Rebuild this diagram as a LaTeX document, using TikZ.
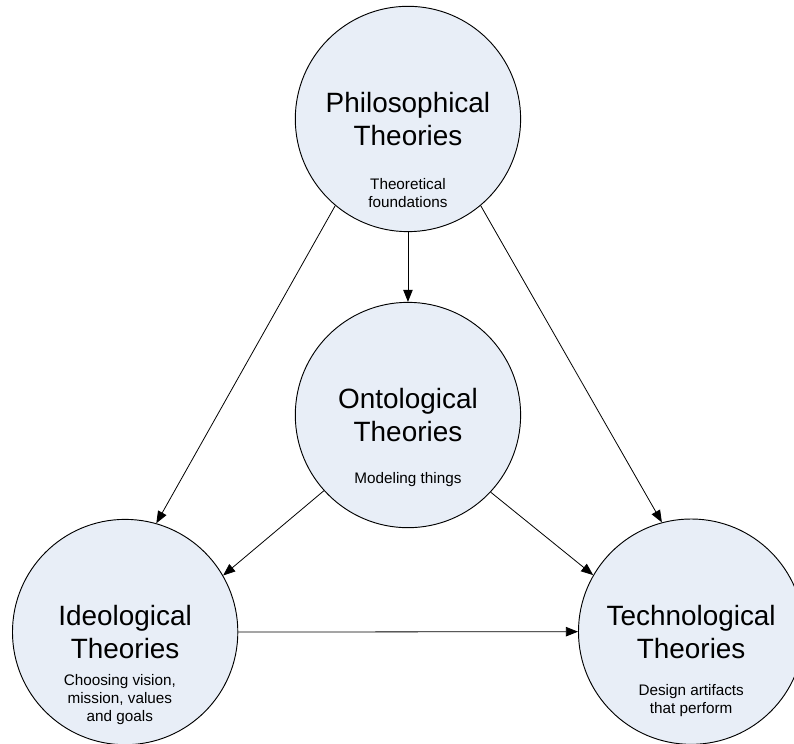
\documentclass[tikz,border=0pt]{standalone}
\usepackage{fontspec}
\setmainfont{Liberation Sans}
\usepackage{tikz}
\usetikzlibrary{arrows.meta,positioning}
\definecolor{theoryfill}{RGB}{232,238,247}

\begin{document}
\begin{tikzpicture}
		[theory/.style={circle,draw=black,fill=theoryfill,line width=0.7pt,
			inner sep=0pt,minimum size=5.96cm,align=center,
			font=\fontsize{21}{25}\selectfont},
		note/.style={inner sep=0pt,align=center,anchor=north,
			font=\fontsize{11.5}{13.5}\selectfont},
		link/.style={draw=black,line width=0.6pt,
			-{Triangle[length=3.2mm,width=2.5mm]}}]
		\useasboundingbox (0,0) rectangle (21,19.677);
		%---------------------circulos------------
		\node at (10.79,16.53) [theory] (philo) {Philosophical\\Theories};
		\node at (10.79,8.70) [theory] (onto) {Ontological\\Theories};
		\node at (3.31,2.96) [theory] (ideo) {Ideological\\Theories};
		\node at (18.28,2.97) [theory] (techno) {Technological\\Theories};
		%---------------------textos------------
		\node at (10.79,14.97) [note] (philonote) {Theoretical\\foundations};
		\node at (10.79,7.20) [note] (ontonote) {Modeling things};
		\node at (3.17,1.85) [note] (ideonote) {Choosing vision,\\mission, values\\and goals};
		\node at (18.28,1.59) [note] (technonote) {Design artifacts\\that perform};
		%---------------------flechas------------
		\draw[link] (philo.south) -- (onto.north);
		\draw[link] (philo.230) -- (ideo.74);
		\draw[link] (philo.310) -- (techno.105);
		\draw[link] (onto.222) -- (ideo.30);
		\draw[link] (onto.317) -- (techno.150);
		\draw[link] (ideo.east) -- (techno.west);
		\end{tikzpicture}
\end{document}
